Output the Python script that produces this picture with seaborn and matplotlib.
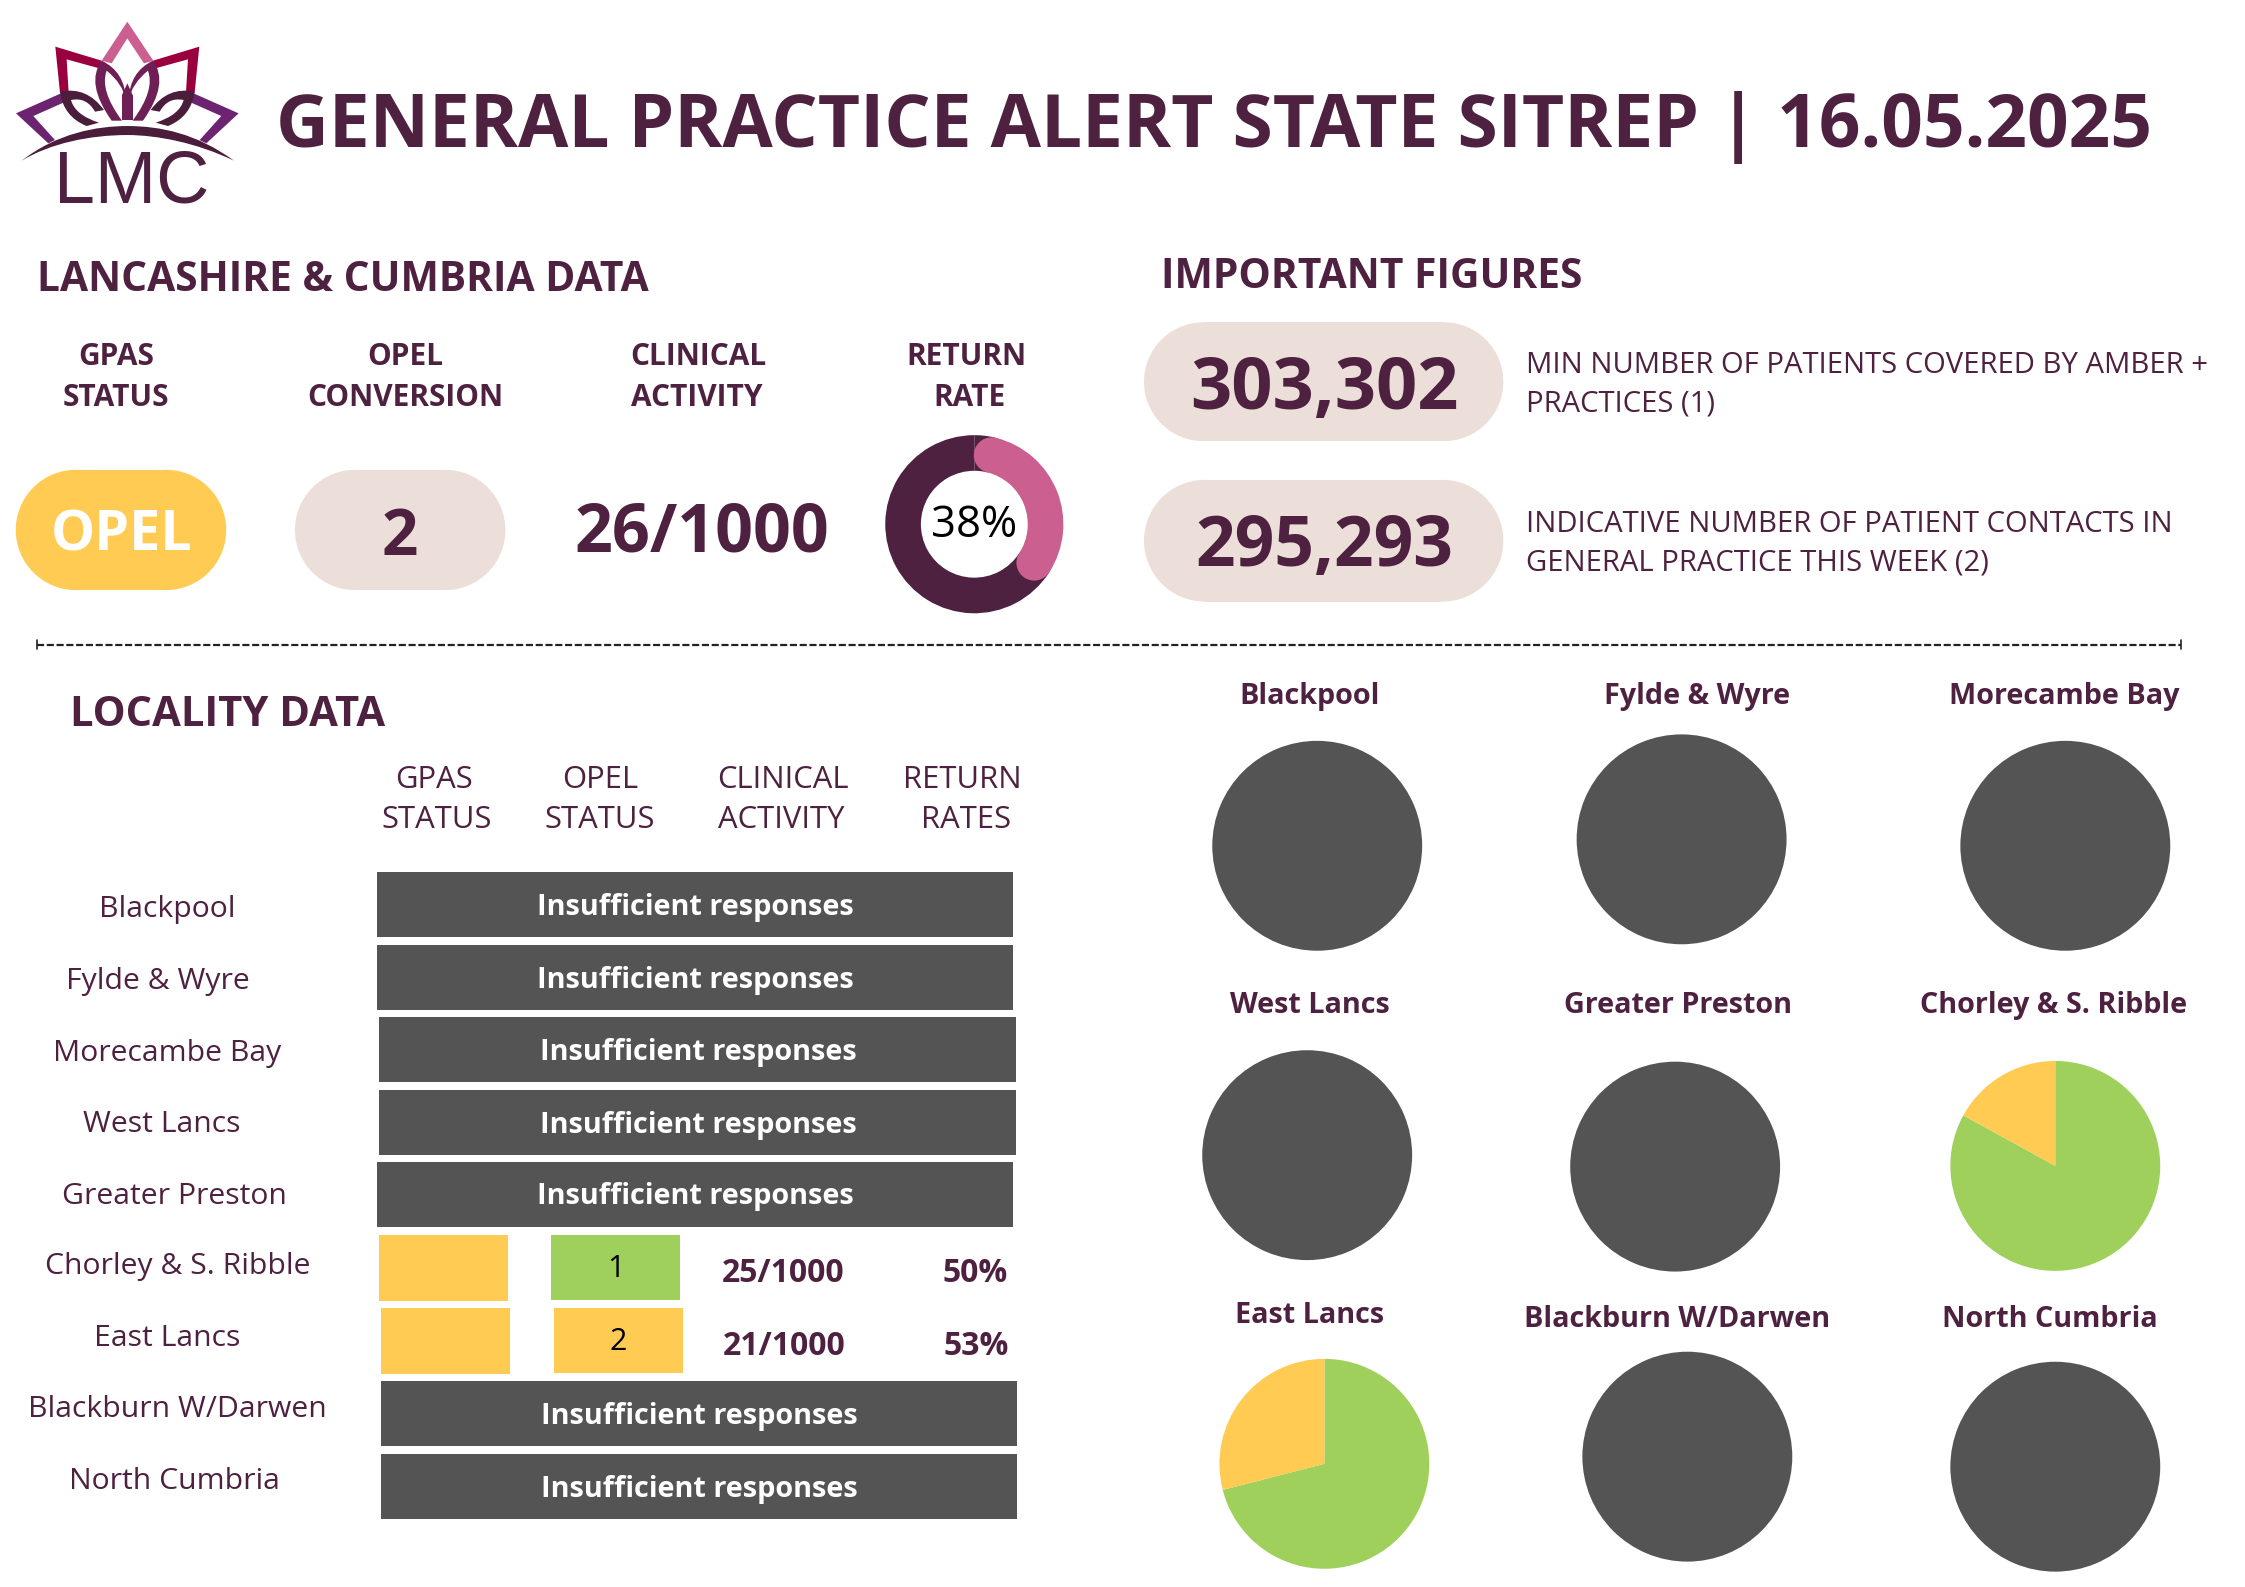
import numpy as np
import matplotlib
matplotlib.use("Agg")
import matplotlib.pyplot as plt
from matplotlib.patches import Rectangle, PathPatch, Circle
from matplotlib.path import Path
from matplotlib.transforms import Affine2D
import seaborn as sns

# ---------- data ----------
title = "GENERAL PRACTICE ALERT STATE SITREP | 16.05.2025"
headline_labels = [["GPAS", "STATUS"], ["OPEL", "CONVERSION"], ["CLINICAL", "ACTIVITY"], ["RETURN", "RATE"]]
headline_opel = "OPEL"
headline_conversion = "2"
headline_activity = "26/1000"
headline_return_rate = 38
figures = ["303,302", "295,293"]
figure_notes = [["MIN NUMBER OF PATIENTS COVERED BY AMBER +", "PRACTICES (1)"],
                ["INDICATIVE NUMBER OF PATIENT CONTACTS IN", "GENERAL PRACTICE THIS WEEK (2)"]]
table_headers = [["GPAS", "STATUS"], ["OPEL", "STATUS"], ["CLINICAL", "ACTIVITY"], ["RETURN", "RATES"]]
localities = ["Blackpool", "Fylde & Wyre", "Morecambe Bay", "West Lancs", "Greater Preston",
              "Chorley & S. Ribble", "East Lancs", "Blackburn W/Darwen", "North Cumbria"]
opel_status = [None, None, None, None, None, 1, 2, None, None]
clinical_activity = [None, None, None, None, None, "25/1000", "21/1000", None, None]
return_rates = [None, None, None, None, None, "50%", "53%", None, None]
pie_order = ["Blackpool", "Fylde & Wyre", "Morecambe Bay", "West Lancs", "Greater Preston",
             "Chorley & S. Ribble", "East Lancs", "Blackburn W/Darwen", "North Cumbria"]
pie_green = [0, 0, 0, 0, 0, 83, 71, 0, 0]
pie_amber = [0, 0, 0, 0, 0, 17, 29, 0, 0]
pie_insufficient = [100, 100, 100, 100, 100, 0, 0, 100, 100]

# ---------- styles ----------
DARK, PINK, AMBER, GREEN, GREY, BEIGE = sns.color_palette(
    ["#4d213f", "#cb5f8f", "#ffcb52", "#a0d05c", "#545454", "#ecdfd9"])
OPEL_COLOURS = {1: GREEN, 2: AMBER}
LOGO_RED, LOGO_PURPLE, LOGO_MID, LOGO_DARK = "#99003d", "#6d2470", "#6e1f55", "#4a1d3a"

sns.set_theme(style="white")
plt.rcParams["font.family"] = ["Open Sans", "Noto Sans", "DejaVu Sans"]

W, H = 1568.0, 1108.0
fig = plt.figure(figsize=(22.45, 15.87), dpi=100, facecolor="white")
ax = fig.add_axes([0, 0, 1, 1])
ax.set_xlim(0, W)
ax.set_ylim(H, 0)
ax.axis("off")


def T(x, y, s, size, weight="normal", color=DARK, ha="center", **kw):
    return ax.text(x, y + 0.9 + 0.06 * size, s, fontsize=size, fontweight=weight, color=color,
                   ha=ha, va="center", **kw)


def pill(x0, y0, x1, y1, color):
    r = (y1 - y0) / 2
    ax.add_patch(Rectangle((x0 + r, y0), x1 - x0 - 2 * r, y1 - y0, fc=color, ec="none"))
    ax.add_patch(Circle((x0 + r, y0 + r), r, fc=color, ec="none"))
    ax.add_patch(Circle((x1 - r, y0 + r), r, fc=color, ec="none"))


def inset(cx, cy, r):
    a = fig.add_axes([(cx - r) / W, 1 - (cy + r) / H, 2 * r / W, 2 * r / H])
    a.set_xlim(-1, 1)
    a.set_ylim(-1, 1)
    a.set_aspect("equal")
    a.axis("off")
    return a


# ---------- logo (drawn in logo-local pixel units) ----------
logo_tf = Affine2D().scale(1 / 3 / 1.432) + ax.transData
M, L, Q, C, Z = Path.MOVETO, Path.LINETO, Path.CURVE3, Path.CURVE4, Path.CLOSEPOLY


def poly(points, color):
    ax.add_patch(plt.Polygon(points, closed=True, fc=color, ec="none", transform=logo_tf))


def curve(verts, codes, color):
    ax.add_patch(PathPatch(Path(verts, codes), fc=color, ec="none", lw=0, transform=logo_tf))


def mirror(points):
    return [(764 - x, y) for x, y in points]


poly([(382, 65), (460, 182), (432, 190), (382, 115), (335, 190), (305, 182)], PINK)
red = [(166, 140), (305, 182), (298, 205), (200, 178), (206, 278), (180, 278)]
poly(red, LOGO_RED)
poly(mirror(red), LOGO_RED)
purple = [(48, 340), (183, 280), (190, 308), (100, 348), (165, 420), (145, 430)]
poly(purple, LOGO_PURPLE)
poly(mirror(purple), LOGO_PURPLE)

dark_v = [(180, 275), (260, 258), (312, 330), (285, 335), (260, 290), (213, 300),
          (225, 345), (297, 368), (260, 378), (190, 350), (180, 275), (180, 275)]
dark_c = [M, Q, Q, L, Q, Q, Q, Q, L, Q, Q, Z]
mid_v = [(305, 182), (255, 250), (335, 362), (366, 362), (298, 270), (320, 212),
         (368, 250), (378, 300), (375, 215), (305, 182), (305, 182)]
mid_c = [M, Q, Q, L, Q, Q, Q, Q, Q, Q, Z]
curve(dark_v, dark_c, LOGO_DARK)
curve(mirror(dark_v), dark_c, LOGO_DARK)
curve(mid_v, mid_c, LOGO_MID)
curve(mirror(mid_v), mid_c, LOGO_MID)
poly([(366, 285), (398, 285), (398, 360), (366, 360)], LOGO_MID)
poly([(366, 285), (382, 250), (398, 285)], LOGO_MID)
arc_v = [(65, 482), (170, 400), (290, 378), (382, 378), (480, 378), (590, 400), (702, 482),
         (590, 428), (470, 405), (382, 405), (270, 405), (150, 430), (65, 482), (65, 482)]
arc_c = [M, C, C, C, C, C, C, C, C, C, C, C, C, Z]
curve(arc_v, arc_c, LOGO_DARK)
ax.text(92, 128, "LMC", fontsize=53, color=DARK, family="Liberation Sans", ha="center", va="center")

# ---------- header ----------
T(193, 85, title, 52.6, "bold", ha="left")
T(26, 193, "LANCASHIRE & CUMBRIA DATA", 29.3, "bold", ha="left")
T(811, 191, "IMPORTANT FIGURES", 29.3, "bold", ha="left")

head_x = [(81, 81), (283, 283), (488, 487), (675, 677)]
for (x1, x2), (l1, l2) in zip(head_x, headline_labels):
    T(x1, 247, l1, 21.5, "bold")
    T(x2, 276, l2, 21.5, "bold")

pill(11, 328, 158, 412, AMBER)
T(85, 371, headline_opel, 40, "bold", color="white")
pill(206, 328, 353, 412, BEIGE)
T(279, 372, headline_conversion, 46, "bold")
T(490, 369, headline_activity, 47.8, "bold")

# donut: 38% arc with rounded ends
CAP_PCT = 3.9
dn = inset(680.5, 366, 62.2)
dn.pie([CAP_PCT, headline_return_rate - 2 * CAP_PCT, 100 - headline_return_rate + CAP_PCT],
       colors=[DARK, PINK, DARK], startangle=90, counterclock=False, radius=1,
       wedgeprops=dict(width=0.4, linewidth=0))
dn.set_xlim(-1, 1)
dn.set_ylim(-1, 1)
for pct in (CAP_PCT, headline_return_rate - CAP_PCT):
    ang = np.deg2rad(pct * 3.6)
    dn.add_patch(Circle((0.8 * np.sin(ang), 0.8 * np.cos(ang)), 0.2, fc=PINK, ec="none"))
dn.text(0, -0.02, f"{headline_return_rate}%", fontsize=31.5, color="black", ha="center", va="center")

pill(799, 225, 1050, 308, BEIGE)
pill(799, 335, 1050, 420, BEIGE)
T(925, 268, figures[0], 52, "bold")
T(925, 379, figures[1], 50, "bold")
note_y = [(253, 280), (364, 391)]
for (y1, y2), (l1, l2) in zip(note_y, figure_notes):
    T(1066, y1, l1, 21.1, ha="left")
    T(1066, y2, l2, 21.1, ha="left")

# divider
ax.plot([26, 1523], [450, 450], color="#222222", lw=1.6, dashes=(3.2, 1.2))
ax.plot([26, 26], [447, 453], color="#222222", lw=1.2)
ax.plot([1523, 1523], [447, 453], color="#222222", lw=1.2)

# ---------- locality table ----------
T(49, 497, "LOCALITY DATA", 30, "bold", ha="left")
hdr_x = [(303, 305), (419, 419), (547, 546), (672, 675)]
for (x1, x2), (l1, l2) in zip(hdr_x, table_headers):
    T(x1, 542, l1, 22.3)
    T(x2, 570, l2, 22.3)

label_pos = [(117, 633), (110, 683), (117, 733), (113, 783), (122, 833),
             (124, 882), (117, 932), (124, 982), (122, 1032)]
for (x, y), name in zip(label_pos, localities):
    T(x, y, name, 21.7)

bar_pos = [(263, 609), (263, 660), (265, 710), (265, 761), (263, 811),
           None, None, (266, 964), (266, 1015)]
cell_pos = [None, None, None, None, None, (265, 385, 862, 547, 681, 887), (266, 387, 913, 548, 682, 938), None, None]
for i, name in enumerate(localities):
    if opel_status[i] is None:
        x, y = bar_pos[i]
        ax.add_patch(Rectangle((x, y), 444.5, 45.5, fc=GREY, ec="none"))
        T(x + 222.5, y + 22.5, "Insufficient responses", 20.8, "bold", color="white")
    else:
        xa, xb, y, xc, xd, yt = cell_pos[i]
        ax.add_patch(Rectangle((xa, y), 90, 46, fc=AMBER, ec="none"))
        ax.add_patch(Rectangle((xb, y), 90, 45.5, fc=OPEL_COLOURS[opel_status[i]], ec="none"))
        T(xb + 45, y + 22, str(opel_status[i]), 22, color="black")
        T(xc, yt, clinical_activity[i], 23, "bold")
        T(xd, yt, return_rates[i], 23, "bold")

# ---------- locality pies ----------
pie_centres = [(920, 590.5), (1174.5, 586), (1442.5, 590.5), (913, 806.5), (1170, 814.5),
               (1435.5, 814), (925, 1022), (1178.5, 1017), (1435.5, 1024)]
pie_titles = [(915, 484), (1185, 484), (1442, 484), (915, 700), (1172, 700),
              (1434, 700), (915, 916), (1171, 919), (1432, 919)]
for i, name in enumerate(pie_order):
    T(*pie_titles[i], name, 20.7, "bold")
    a = inset(*pie_centres[i], 73.3)
    a.pie([pie_green[i], pie_amber[i], pie_insufficient[i]], colors=[GREEN, AMBER, GREY],
          startangle=90, counterclock=False, radius=1, wedgeprops=dict(linewidth=0))
    a.set_xlim(-1, 1)
    a.set_ylim(-1, 1)

fig.savefig("out.png", dpi=100, facecolor="white")
